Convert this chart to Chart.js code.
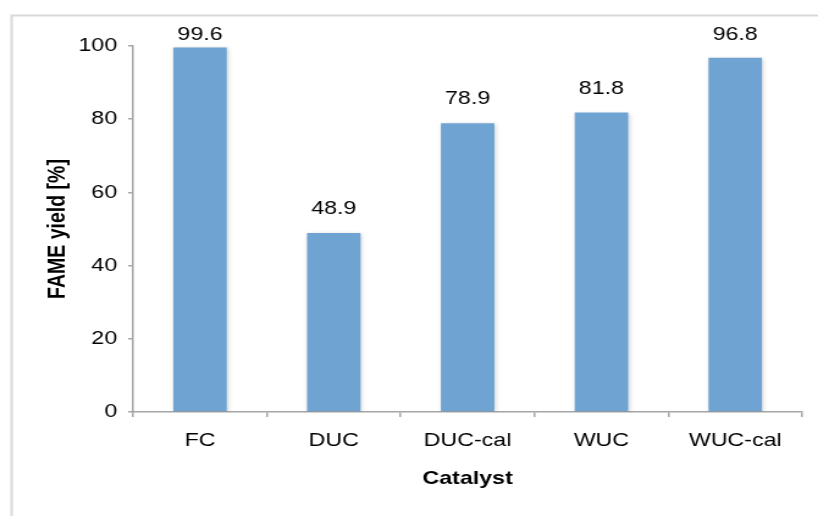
<!DOCTYPE html>
<html>
<head>
<meta charset="utf-8">
<script src="https://cdn.jsdelivr.net/npm/chart.js@4/dist/chart.umd.min.js"></script>
<style>
  html, body { margin: 0; padding: 0; background: #fff; overflow: hidden; }
  /* the figure is stretched sideways to fill the page */
  #wrap { width: 670px; height: 516px; transform: scaleX(1.2209); transform-origin: 0 0; }
</style>
</head>
<body>
<div id="wrap"><canvas id="myChart" width="670" height="516"></canvas></div>
<script>
// catalysts and FAME yields
var catalystLabels = ['FC', 'DUC', 'DUC-cal', 'WUC', 'WUC-cal'];
var fameYield = [99.6, 48.9, 78.9, 81.8, 96.8];
var yTicks = [0, 20, 40, 60, 80, 100];

var fontName = '"Liberation Sans", Arial, Helvetica, sans-serif';
var axisColor = '#a6a6a6';

// light grey frame round the chart
var framePlugin = {
	id: 'frame',
	beforeDraw: function (chart) {
		var ctx = chart.ctx;
		ctx.save();
		ctx.strokeStyle = '#d9d9d9';
		ctx.lineWidth = 2;
		ctx.strokeRect(9.5, 15.5, chart.width + 20, chart.height + 20);
		ctx.restore();
	}
};

// soft shadow under the bars
var shadowPlugin = {
	id: 'barShadow',
	beforeDatasetsDraw: function (chart) {
		var ctx = chart.ctx;
		ctx.save();
		ctx.shadowColor = 'rgba(0,0,0,0.18)';
		ctx.shadowBlur = 4;
		ctx.shadowOffsetX = 1;
		ctx.shadowOffsetY = 1;
	},
	afterDatasetsDraw: function (chart) {
		chart.ctx.restore();
	}
};

// value above each bar
var valueLabels = {
	id: 'valueLabels',
	afterDatasetsDraw: function (chart) {
		var ctx = chart.ctx;
		var meta = chart.getDatasetMeta(0);
		ctx.save();
		ctx.font = '19px ' + fontName;
		ctx.fillStyle = '#000';
		ctx.textAlign = 'center';
		ctx.textBaseline = 'middle';
		for (var i = 0; i < meta.data.length; i++) {
			var bar = meta.data[i];
			var y = Math.max(bar.y - 24, chart.chartArea.top - 11);
			ctx.fillText(fameYield[i].toFixed(1), bar.x, y);
		}
		ctx.restore();
	}
};

var chart = new Chart(document.getElementById('myChart'), {
	type: 'bar',
	data: {
		labels: catalystLabels,
		datasets: [{
			data: fameYield,
			backgroundColor: '#6fa3d2',
			borderWidth: 0,
			categoryPercentage: 0.4,
			barPercentage: 1.0
		}]
	},
	options: {
		responsive: false,
		animation: false,
		events: [],
		layout: { padding: { left: 0, top: 46, right: 13, bottom: 24 } },
		plugins: {
			legend: { display: false },
			tooltip: { enabled: false }
		},
		scales: {
			x: {
				afterFit: function (scale) { scale.height = 80; },
				border: { color: axisColor, width: 1.5 },
				grid: {
					offset: true,
					drawOnChartArea: false,
					drawTicks: true,
					tickLength: 5,
					color: axisColor,
					lineWidth: 1.5
				},
				ticks: {
					color: '#000',
					padding: 12,
					font: { family: fontName, size: 19 }
				},
				title: {
					display: true,
					text: 'Catalyst',
					color: '#000',
					padding: { top: 0, bottom: 2 },
					font: { family: fontName, size: 19, weight: 'bold' }
				}
			},
			y: {
				min: 0,
				max: 100,
				afterFit: function (scale) { scale.width = 109; },
				afterBuildTicks: function (scale) {
					scale.ticks = yTicks.map(function (v) { return { value: v }; });
				},
				border: { color: axisColor, width: 1.5 },
				grid: {
					drawOnChartArea: false,
					drawTicks: true,
					tickLength: 4,
					color: axisColor,
					lineWidth: 1.5
				},
				ticks: {
					color: '#000',
					padding: 9,
					font: { family: fontName, size: 19 }
				},
				title: {
					display: true,
					text: 'FAME yield [%]',
					color: '#000',
					padding: { top: 36, bottom: 0 },
					font: { family: fontName, size: 19.5, weight: 'bold' }
				}
			}
		}
	},
	plugins: [framePlugin, shadowPlugin, valueLabels]
});
</script>
</body>
</html>
